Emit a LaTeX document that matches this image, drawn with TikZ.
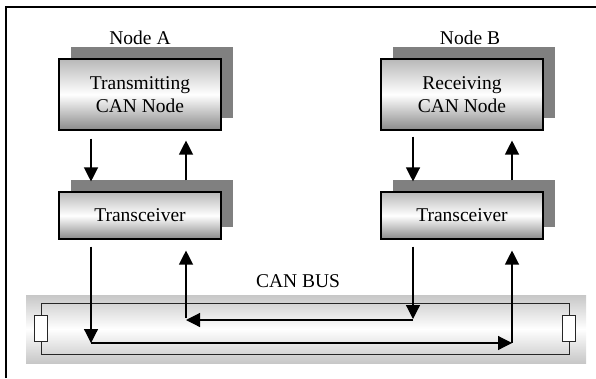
\documentclass[tikz,border=0pt]{standalone}
\usepackage{
	fontspec,			% Fonts
	tikz
}
\setmainfont{Liberation Serif}
\usetikzlibrary{positioning,shadows,arrows.meta}

\tikzset{
	unit/.style={draw=black, line width=1.1pt, top color=black!28, bottom color=black!46, middle color=white,
		minimum width=162pt, align=center,
		drop shadow={shadow xshift=12pt, shadow yshift=12pt, fill=black!50, opacity=1}},
	sig/.style={-{Triangle[length=14pt,width=14pt]}, line width=1.2pt},
	wire/.style={line width=0.9pt, black!85}
}

\begin{document}
\begin{tikzpicture}[x=1pt, y=-1pt, font=\fontsize{19.5}{23}\selectfont]
		\useasboundingbox (0,0) rectangle (596,378);
		\draw[line width=1.6pt] (6,378) -- (6,7) -- (596,7);
		% the two CAN nodes and their transceivers
		\node[unit, minimum height=71pt] (tnA) at (140,94.5) {Transmitting\\CAN Node};
		\node[unit, minimum height=71pt] (rnB) at (462,94.5) {Receiving\\CAN Node};
		\node[unit, minimum height=47pt] (trA) at (140,215.5) {Transceiver};
		\node[unit, minimum height=47pt] (trB) at (462,215.5) {Transceiver};
		\node[above=10.5pt of tnA] (labA) {Node A};
		\node[above=10.5pt of rnB, xshift=8pt] (labB) {Node B};
		% bus
		\shade[top color=black!22, bottom color=black!22, middle color=white] (26,295) rectangle (586,363);
		\draw[wire] (41,303) rectangle (569,354);
		\draw[wire, fill=white] (34,315) rectangle (47,341);
		\draw[wire, fill=white] (562,315) rectangle (575,341);
		\node (busLab) at (298,281.5) {CAN BUS};
		\coordinate (busTx) at (91,343);
		\coordinate (busTxEnd) at (512,343);
		\coordinate (busRx) at (413,319);
		\coordinate (busRxEnd) at (186,320);
		% node <-> transceiver
		\draw[sig, shorten <=8pt, shorten >=10pt] ([xshift=-49pt]tnA.south) -- ([xshift=-49pt]trA.north);
		\draw[sig, shorten <=11pt, shorten >=10pt] ([xshift=46pt]trA.north) -- ([xshift=46pt]tnA.south);
		\draw[sig, shorten <=6pt, shorten >=10pt] ([xshift=-49pt]rnB.south) -- ([xshift=-49pt]trB.north);
		\draw[sig, shorten <=11pt, shorten >=10pt] ([xshift=50pt]trB.north) -- ([xshift=50pt]rnB.south);
		% transceiver <-> bus
		\draw[sig, shorten <=7pt] ([xshift=-49pt]trA.south) -- (busTx);
		\draw[sig] (busTx) -- (busTxEnd);
		\draw[sig, shorten >=11pt] (busTxEnd) -- ([xshift=50pt]trB.south);
		\draw[sig, shorten <=7pt] ([xshift=-49pt]trB.south) -- (busRx);
		\draw[sig] ([yshift=-1pt]busRx) -- (busRxEnd);
		\draw[sig, shorten >=11pt] ([yshift=2pt]busRxEnd) -- ([xshift=46pt]trA.south);
	\end{tikzpicture}
\end{document}
